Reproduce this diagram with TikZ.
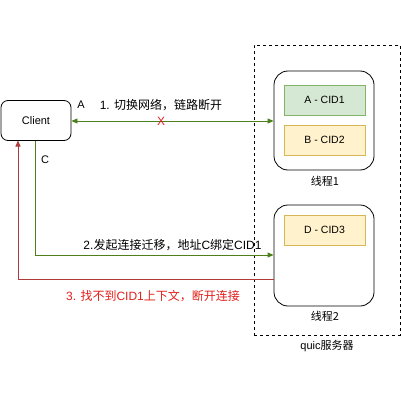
\documentclass[tikz,border=0pt]{standalone}
\usepackage{fontspec}
\setmainfont{Liberation Sans}
\newfontfamily\cjk{Noto Sans CJK SC}
\usetikzlibrary{arrows.meta}
\definecolor{lgreen}{HTML}{4D7F1A}
\definecolor{lred}{HTML}{B03A3A}
\definecolor{tred}{HTML}{E0201B}
\definecolor{gfill}{HTML}{D5E8D4}
\definecolor{gstroke}{HTML}{82B366}
\definecolor{yfill}{HTML}{FFF2CC}
\definecolor{ystroke}{HTML}{D6B656}
\tikzset{
  rbox/.style={draw=black, rounded corners=7pt, line width=0.8pt, minimum width=70pt, minimum height=40pt, inner sep=0pt},
  threadbox/.style={draw=black, rounded corners=14pt, line width=0.8pt, minimum width=100pt, minimum height=100pt, inner sep=0pt},
  cidg/.style={draw=gstroke, fill=gfill, line width=0.6pt, minimum width=81pt, minimum height=30pt, inner sep=0pt, font=\fontsize{10.5}{12}\selectfont},
  cidy/.style={draw=ystroke, fill=yfill, line width=0.6pt, minimum width=81pt, minimum height=30pt, inner sep=0pt, font=\fontsize{10.5}{12}\selectfont},
  lbl/.style={inner sep=0pt, font=\fontsize{10}{12}\selectfont},
  alabel/.style={inner sep=0pt, font=\fontsize{12}{14}\selectfont},
  garrow/.style={draw=lgreen, line width=0.8pt, -{Triangle[length=6pt,width=5pt]}},
  rarrow/.style={draw=lred, line width=0.8pt, -{Triangle[length=6pt,width=5pt]}},
}
\begin{document}
\begin{tikzpicture}[x=1pt,y=-1pt]
\useasboundingbox (0,0) rectangle (401,401);
% container
\node[draw=black, dashed, line width=0.7pt, minimum width=146pt, minimum height=290pt, inner sep=0pt] (srv) at (327,190) {};
\node[lbl, font=\fontsize{11}{13}\selectfont] (srvl) at (327,346) {quic{\cjk 服务器}};
% client
\node[rbox, font=\fontsize{11}{13}\selectfont] (client) at (36,120.5) {Client};
\node[lbl, font=\fontsize{11}{13}\selectfont] (la) at (81,105) {A};
\node[lbl, font=\fontsize{11}{13}\selectfont] (lc) at (45,160) {C};
% thread 1
\node[threadbox, minimum height=99pt] (t1) at (324,120.5) {};
\node[cidg] (a1) at (324.5,100) {A - CID1};
\node[cidy] (b2) at (324.5,140) {B - CID2};
\node[lbl, font=\fontsize{11}{13}\selectfont] (t1l) at (325,181) {\cjk 线程1};
% thread 2
\node[threadbox, minimum height=101pt] (t2) at (324,255.5) {};
\node[cidy] (d3) at (324.5,230) {D - CID3};
\node[lbl, font=\fontsize{11}{13}\selectfont] (t2l) at (325,316) {\cjk 线程2};
% arrow 1
\coordinate (c1a) at (client.east |- 0,121);
\coordinate (c1b) at (t1.west |- 0,121);
\draw[garrow, {Triangle[length=6pt,width=5pt]}-{Triangle[length=6pt,width=5pt]}] (c1a) -- (c1b);
\node[alabel] (l1) at (161,105) {1. {\cjk 切换网络，链路断开}};
\node[alabel, text=tred] (x) at (161,121.5) {X};
% arrow 2
\coordinate (c2a) at (35,140.5);
\coordinate (c2b) at (t2.west |- 0,255);
\draw[garrow] (c2a) -- (35,255) -- (c2b);
\node[alabel] (l2) at (172.5,245) {2.{\cjk 发起连接迁移，地址}C{\cjk 绑定}CID1};
% arrow 3
\coordinate (c3a) at (t2.west |- 0,279);
\coordinate (c3b) at (18,140.5);
\draw[rarrow] (c3a) -- (18,279) -- (c3b);
\node[alabel, text=tred] (l3) at (153,296) {3. {\cjk 找不到}CID1{\cjk 上下文，断开连接}};
\end{tikzpicture}
\end{document}
